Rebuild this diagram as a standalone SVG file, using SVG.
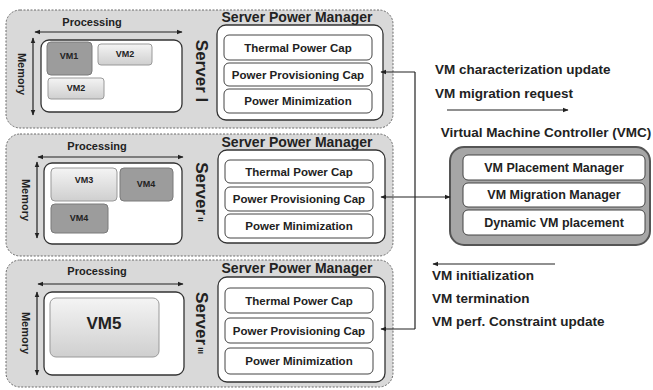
<svg xmlns="http://www.w3.org/2000/svg" width="653" height="390" viewBox="0 0 653 390">
<defs>
<linearGradient id="lg" x1="0" y1="0" x2="0" y2="1"><stop offset="0" stop-color="#f4f4f4"/><stop offset="1" stop-color="#cfcfcf"/></linearGradient>
<marker id="ah" viewBox="0 0 10 10" refX="9" refY="5" markerWidth="6" markerHeight="6" orient="auto-start-reverse" markerUnits="userSpaceOnUse"><path d="M0,1 L10,5 L0,9 z" fill="#222"/></marker>
<style>
.srv{fill:#d9d9d9;stroke:#6a6a6a;stroke-width:1;stroke-dasharray:2,1.5}
.wb{fill:#fff;stroke:#333;stroke-width:1.3}
.it{fill:#fff;stroke:#444;stroke-width:1}
.vml{fill:url(#lg);stroke:#999;stroke-width:1}
.vmd{fill:#9c9c9c;stroke:#7a7a7a;stroke-width:1}
.ln{stroke:#222;stroke-width:1.2;fill:none}
text{font-family:"Liberation Sans",Arial,sans-serif;font-weight:bold;fill:#222}
.t11{font-size:11.5px}
.tm{font-size:11px}
.t13{font-size:13.5px}
.tt{font-size:14px}
.tv{font-size:12.5px}
.vm{font-size:9px;text-anchor:middle;dominant-baseline:central}
.c{text-anchor:middle;dominant-baseline:central}
.sv{font-size:17px;text-anchor:middle;dominant-baseline:central}
</style>
</defs>

<g id="server1">
<rect class="srv" x="6" y="10" width="387" height="118" rx="14"/>
<text class="tm c" x="92" y="22">Processing</text>
<line class="ln" x1="35" y1="32" x2="182" y2="32" marker-start="url(#ah)" marker-end="url(#ah)"/>
<line class="ln" x1="33" y1="38" x2="33" y2="115" marker-start="url(#ah)" marker-end="url(#ah)"/>
<text class="tm c" transform="translate(22,74) rotate(90)">Memory</text>
<rect class="wb" x="41" y="40" width="141" height="72" rx="8"/>
<rect class="vmd" x="47" y="42" width="45" height="33" rx="4"/>
<text class="vm" x="69" y="56">VM1</text>
<rect class="vml" x="98" y="44" width="54" height="21" rx="3"/>
<text class="vm" x="125" y="54">VM2</text>
<rect class="vml" x="48" y="78" width="56" height="21" rx="3"/>
<text class="vm" x="76" y="88">VM2</text>
<text class="sv" transform="translate(201,71) rotate(90)">Server I</text>
<text class="tt c" x="297" y="17">Server Power Manager</text>
<rect class="wb" x="217" y="25" width="166" height="95" rx="9"/>
<rect class="it" x="224" y="35" width="148" height="25" rx="5"/>
<text class="t11 c" x="298" y="47.5">Thermal Power Cap</text>
<rect class="it" x="224" y="63" width="148" height="23" rx="5"/>
<text class="t11 c" x="298" y="74.5">Power Provisioning Cap</text>
<rect class="it" x="224" y="89" width="148" height="24" rx="5"/>
<text class="t11 c" x="298" y="101">Power Minimization</text>
</g>

<g id="server2">
<rect class="srv" x="6" y="134" width="387" height="122" rx="14"/>
<text class="tm c" x="97" y="146">Processing</text>
<line class="ln" x1="38" y1="157" x2="183" y2="157" marker-start="url(#ah)" marker-end="url(#ah)"/>
<line class="ln" x1="37" y1="162" x2="37" y2="238" marker-start="url(#ah)" marker-end="url(#ah)"/>
<text class="tm c" transform="translate(26,200) rotate(90)">Memory</text>
<rect class="wb" x="44" y="163" width="138" height="81" rx="8"/>
<rect class="vml" x="51" y="168" width="66" height="33" rx="4"/>
<text class="vm" x="84" y="180">VM3</text>
<rect class="vmd" x="120" y="168" width="53" height="33" rx="4"/>
<text class="vm" x="146" y="184">VM4</text>
<rect class="vmd" x="51" y="204" width="57" height="29" rx="4"/>
<text class="vm" x="79" y="218">VM4</text>
<text class="sv" transform="translate(201,192) rotate(90)">Server<tspan font-size="8"> II</tspan></text>
<text class="tt c" x="297" y="142">Server Power Manager</text>
<rect class="wb" x="218" y="150" width="167" height="93" rx="9"/>
<rect class="it" x="225" y="160" width="148" height="23" rx="5"/>
<text class="t11 c" x="299" y="171.5">Thermal Power Cap</text>
<rect class="it" x="225" y="187" width="148" height="24" rx="5"/>
<text class="t11 c" x="299" y="199">Power Provisioning Cap</text>
<rect class="it" x="225" y="214" width="148" height="24" rx="5"/>
<text class="t11 c" x="299" y="226">Power Minimization</text>
</g>

<g id="server3">
<rect class="srv" x="6" y="260" width="387" height="127" rx="14"/>
<text class="tm c" x="97" y="271">Processing</text>
<line class="ln" x1="38" y1="284" x2="183" y2="284" marker-start="url(#ah)" marker-end="url(#ah)"/>
<line class="ln" x1="37" y1="292" x2="37" y2="375" marker-start="url(#ah)" marker-end="url(#ah)"/>
<text class="tm c" transform="translate(26,333) rotate(90)">Memory</text>
<rect class="wb" x="44" y="292" width="140" height="83" rx="8"/>
<rect class="vml" x="50" y="298" width="109" height="59" rx="6"/>
<text class="c" x="104" y="323" font-size="17">VM5</text>
<text class="sv" transform="translate(201,323) rotate(90)">Server<tspan font-size="8"> III</tspan></text>
<text class="tt c" x="297" y="268">Server Power Manager</text>
<rect class="wb" x="218" y="277" width="167" height="105" rx="9"/>
<rect class="it" x="225" y="288" width="148" height="25" rx="5"/>
<text class="t11 c" x="299" y="300.5">Thermal Power Cap</text>
<rect class="it" x="225" y="318" width="148" height="25" rx="5"/>
<text class="t11 c" x="299" y="330.5">Power Provisioning Cap</text>
<rect class="it" x="225" y="348" width="148" height="26" rx="5"/>
<text class="t11 c" x="299" y="361">Power Minimization</text>
</g>

<g id="vmc">
<text class="t13 c" x="546" y="132">Virtual Machine Controller (VMC)</text>
<rect x="450" y="147" width="200" height="98" rx="14" fill="#a6a6a6" stroke="#555" stroke-width="2"/>
<rect class="it" x="463" y="155" width="182" height="25" rx="5"/>
<text class="tv c" x="554" y="167.5">VM Placement Manager</text>
<rect class="it" x="463" y="183" width="182" height="24" rx="5"/>
<text class="tv c" x="554" y="195">VM Migration Manager</text>
<rect class="it" x="463" y="210" width="182" height="25" rx="5"/>
<text class="tv c" x="554" y="222.5">Dynamic VM placement</text>
</g>

<g id="labels">
<text class="t13" x="435" y="74">VM characterization update</text>
<text class="t13" x="435" y="98">VM migration request</text>
<text class="t13" x="432" y="280">VM initialization</text>
<text class="t13" x="432" y="303">VM termination</text>
<text class="t13" x="432" y="326">VM perf. Constraint update</text>
</g>

<g id="connectors">
<path class="ln" d="M415,72 L415,329"/>
<line class="ln" x1="415" y1="72" x2="381" y2="72" marker-end="url(#ah)"/>
<line class="ln" x1="415" y1="197" x2="381" y2="197" marker-end="url(#ah)"/>
<line class="ln" x1="415" y1="329" x2="381" y2="329" marker-end="url(#ah)"/>
<line class="ln" x1="415" y1="197" x2="450" y2="197" marker-end="url(#ah)"/>
<line class="ln" x1="447" y1="110" x2="568" y2="110" marker-end="url(#ah)"/>
<line class="ln" x1="555" y1="264" x2="433" y2="264" marker-end="url(#ah)"/>
</g>
</svg>
